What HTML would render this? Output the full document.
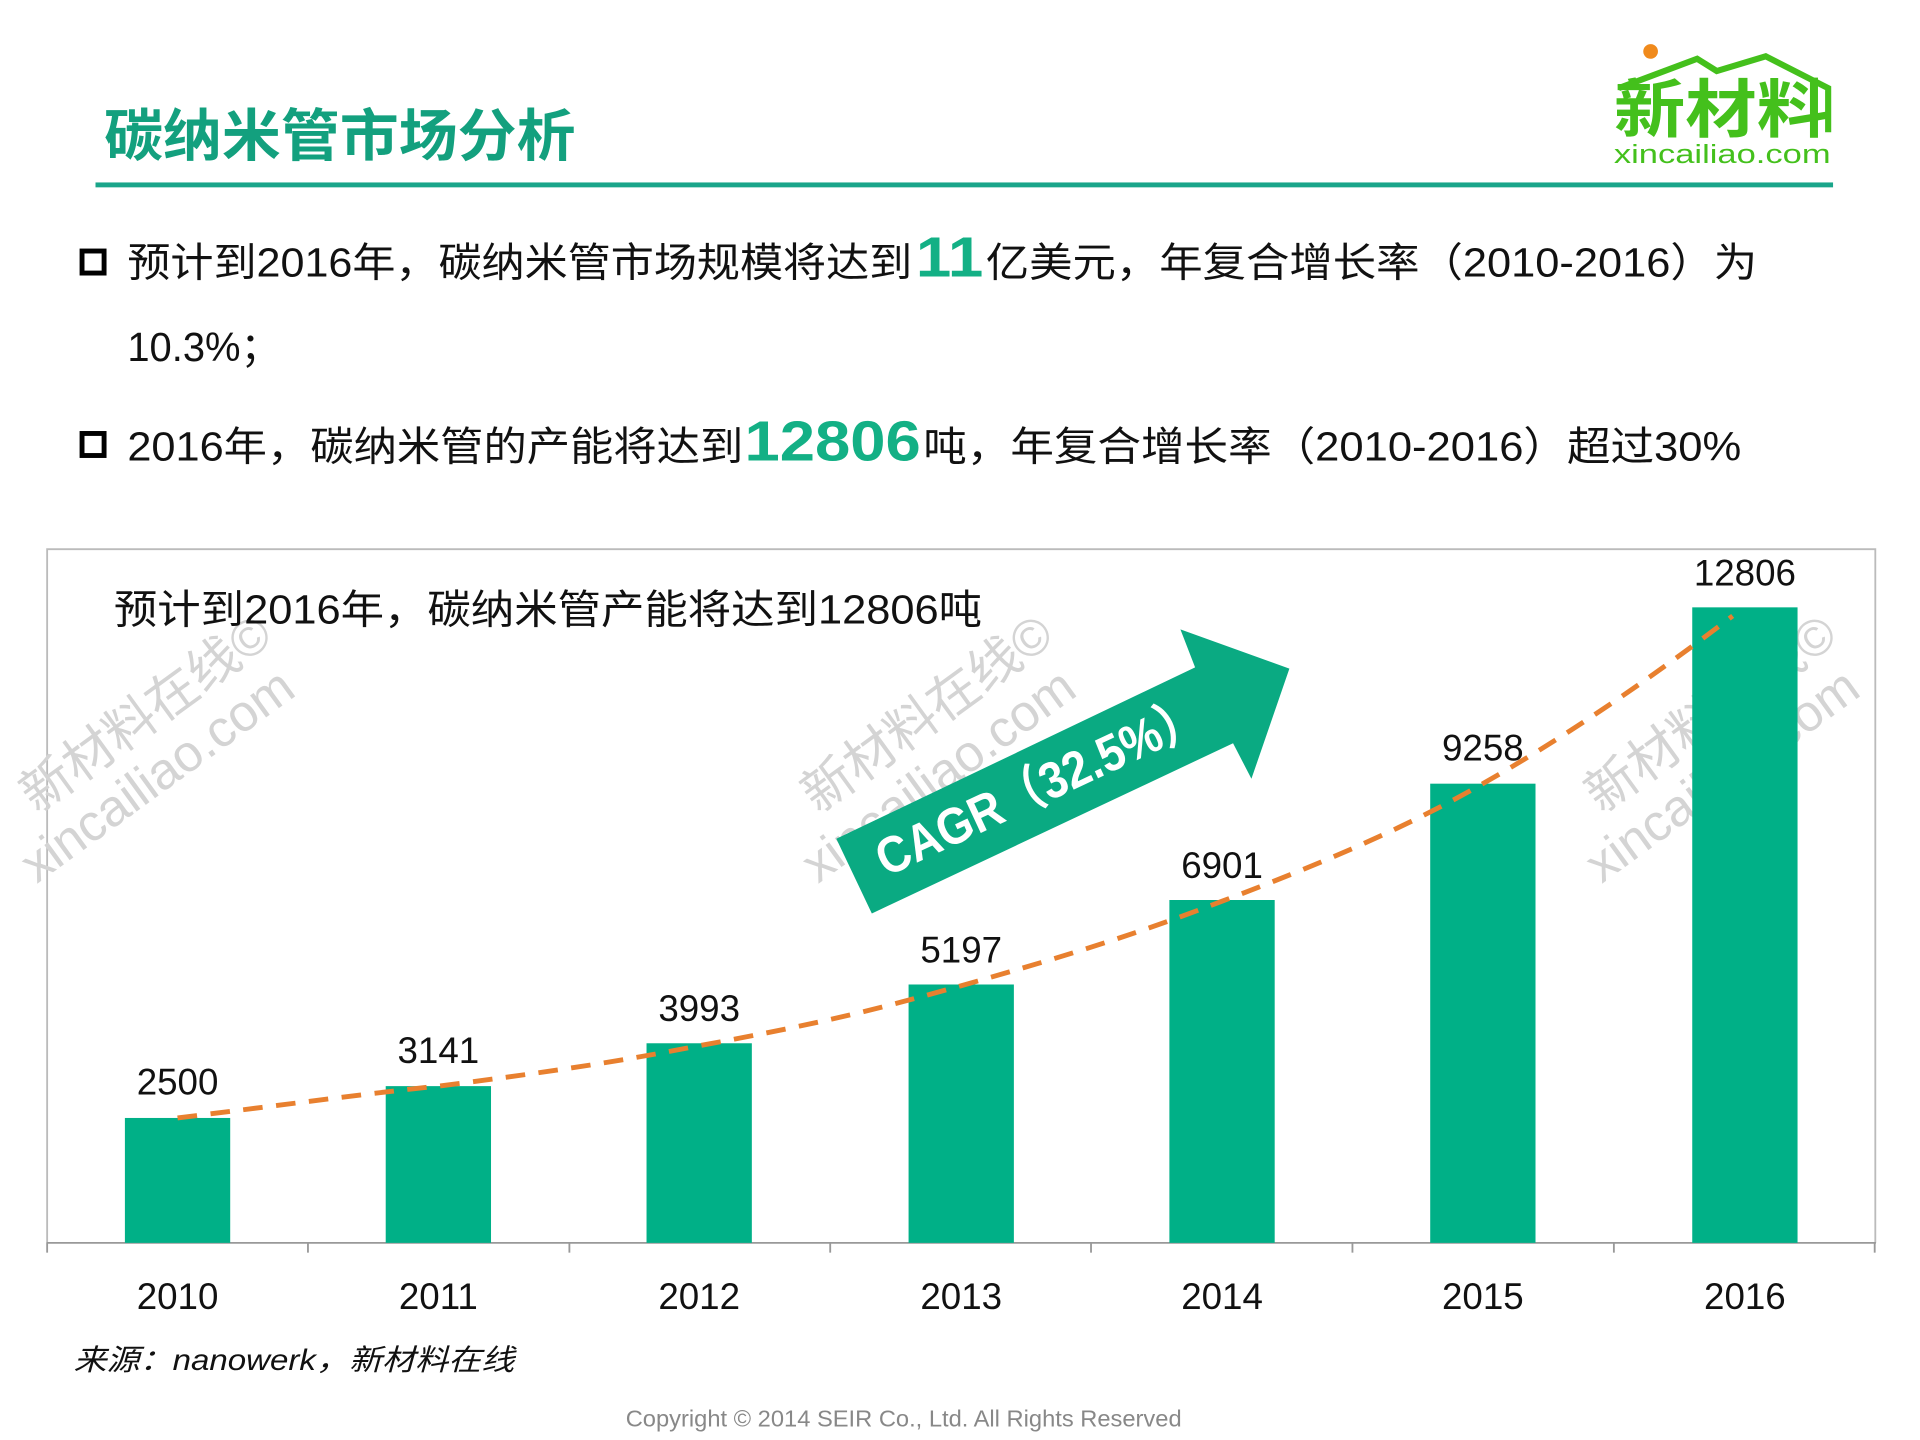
<!DOCTYPE html>
<html><head><meta charset="utf-8"><style>
html,body{margin:0;padding:0;background:#fff;}
svg{display:block;}
text{font-family:"Liberation Sans","Noto Sans CJK SC",sans-serif;}
</style></head><body>
<svg width="1920" height="1440" viewBox="0 0 1568 1176" xmlns="http://www.w3.org/2000/svg">
<rect width="1568" height="1176" fill="#fff"/>
<text x="85" y="127" font-size="46" font-weight="bold" fill="#13a07e" textLength="385" lengthAdjust="spacingAndGlyphs">碳纳米管市场分析</text>
<rect x="78" y="149" width="1419" height="4" fill="#1aa58a"/>
<circle cx="1348" cy="42" r="6" fill="#f08a1c"/>
<polyline points="1322,72 1386,48 1402,58 1442,46 1493,72 1493,108" fill="none" stroke="#44c01c" stroke-width="5"/>
<text x="1318" y="108" font-size="52" font-weight="bold" fill="#44c01c" textLength="175" lengthAdjust="spacingAndGlyphs">新材料</text>
<text x="1318" y="133" font-size="21" fill="#44c01c" textLength="177" lengthAdjust="spacingAndGlyphs">xincailiao.com</text>
<rect x="67" y="205" width="18" height="18" fill="none" stroke="#000" stroke-width="4"/>
<text x="104" y="226" font-size="33" fill="#111" textLength="641" lengthAdjust="spacingAndGlyphs">预计到2016年，碳纳米管市场规模将达到</text>
<text x="748" y="226" font-size="46" font-weight="bold" fill="#13b085" textLength="55" lengthAdjust="spacingAndGlyphs">11</text>
<text x="805" y="226" font-size="33" fill="#111" textLength="630" lengthAdjust="spacingAndGlyphs">亿美元，年复合增长率（2010-2016）为</text>
<text x="104" y="295" font-size="33" fill="#111" textLength="125" lengthAdjust="spacingAndGlyphs">10.3%；</text>
<rect x="67" y="354" width="18" height="18" fill="none" stroke="#000" stroke-width="4"/>
<text x="104" y="376" font-size="33" fill="#111" textLength="503" lengthAdjust="spacingAndGlyphs">2016年，碳纳米管的产能将达到</text>
<text x="608" y="376" font-size="46" font-weight="bold" fill="#13b085" textLength="144" lengthAdjust="spacingAndGlyphs">12806</text>
<text x="754" y="376" font-size="33" fill="#111" textLength="668" lengthAdjust="spacingAndGlyphs">吨，年复合增长率（2010-2016）超过30%</text>
<path d="M38.5,1015 V448.5 H1531.5 V1015" fill="none" stroke="#bbb" stroke-width="1.5"/>
<line x1="38" y1="1015" x2="1532" y2="1015" stroke="#999" stroke-width="1.5"/>
<g stroke="#999" stroke-width="1.5">
<line x1="38.5" y1="1015" x2="38.5" y2="1023"/><line x1="251.5" y1="1015" x2="251.5" y2="1023"/>
<line x1="465" y1="1015" x2="465" y2="1023"/><line x1="678" y1="1015" x2="678" y2="1023"/>
<line x1="891" y1="1015" x2="891" y2="1023"/><line x1="1104.5" y1="1015" x2="1104.5" y2="1023"/>
<line x1="1318" y1="1015" x2="1318" y2="1023"/><line x1="1531" y1="1015" x2="1531" y2="1023"/>
</g>
<g fill="#d4d4d4" font-size="42">
<text transform="translate(30,665) rotate(-36)">新材料在线©</text>
<text transform="translate(30,722) rotate(-36)">xincailiao.com</text>
<text transform="translate(668,665) rotate(-36)">新材料在线©</text>
<text transform="translate(668,722) rotate(-36)">xincailiao.com</text>
<text transform="translate(1308,665) rotate(-36)">新材料在线©</text>
<text transform="translate(1308,722) rotate(-36)">xincailiao.com</text>
</g>
<text x="93" y="509" font-size="33" fill="#111" textLength="709" lengthAdjust="spacingAndGlyphs">预计到2016年，碳纳米管产能将达到12806吨</text>
<g fill="#00b087">
<rect x="102" y="913" width="86" height="102"/>
<rect x="315" y="887" width="86" height="128"/>
<rect x="528" y="852" width="86" height="163"/>
<rect x="742" y="804" width="86" height="211"/>
<rect x="955" y="735" width="86" height="280"/>
<rect x="1168" y="640" width="86" height="375"/>
<rect x="1382" y="496" width="86" height="519"/>
</g>
<g font-size="30" fill="#111" text-anchor="middle">
<text x="145" y="894">2500</text><text x="358" y="868">3141</text><text x="571" y="834">3993</text>
<text x="785" y="786">5197</text><text x="998" y="717">6901</text><text x="1211" y="621">9258</text>
<text x="1425" y="478">12806</text>
<text x="145" y="1069">2010</text><text x="358" y="1069">2011</text><text x="571" y="1069">2012</text>
<text x="785" y="1069">2013</text><text x="998" y="1069">2014</text><text x="1211" y="1069">2015</text>
<text x="1425" y="1069">2016</text>
</g>
<path d="M145,913 C250,900 300,893 358,887 C460,874 510,866 571,854 C680,834 720,823 785,805 C880,778 930,762 998,736 C1080,705 1150,675 1211,640 C1290,595 1360,545 1415,503" fill="none" stroke="#e8802f" stroke-width="4" stroke-dasharray="16 11"/>
<polygon points="712,746 683,685 976,545 964,514 1053,546 1022,636 1007,607" fill="#0aaa82"/>
<text transform="translate(855,655) rotate(-25)" font-size="42" font-weight="bold" fill="#fff" text-anchor="middle" textLength="290" lengthAdjust="spacingAndGlyphs">CAGR（32.5%）</text>
<text x="60" y="1119" font-size="24" font-style="italic" fill="#111" textLength="360" lengthAdjust="spacingAndGlyphs">来源：nanowerk，新材料在线</text>
<text x="738" y="1165" font-size="19" fill="#888" text-anchor="middle" textLength="454" lengthAdjust="spacingAndGlyphs">Copyright © 2014  SEIR Co., Ltd. All Rights Reserved</text>
</svg>
</body></html>
